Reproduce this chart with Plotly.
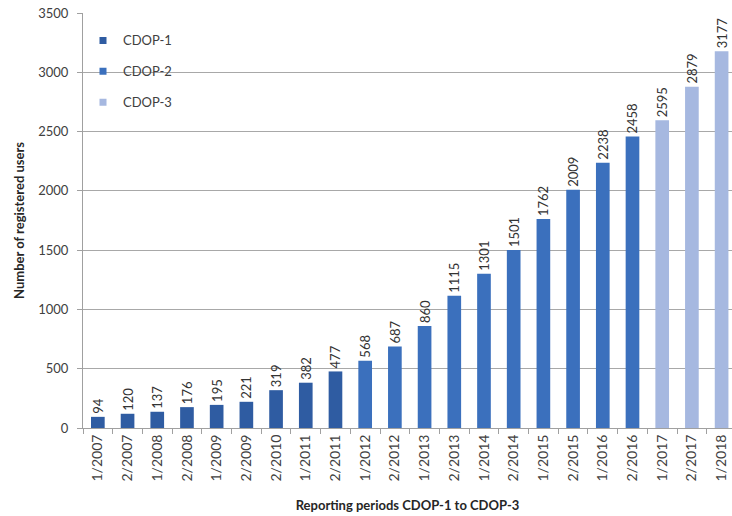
import plotly.graph_objects as go

# Reporting periods and registered users per funding phase
periods_cdop1 = ["1/2007", "2/2007", "1/2008", "2/2008", "1/2009", "2/2009",
                 "2/2010", "1/2011", "2/2011"]
users_cdop1 = [94, 120, 137, 176, 195, 221, 319, 382, 477]

periods_cdop2 = ["1/2012", "2/2012", "1/2013", "2/2013", "1/2014", "2/2014",
                 "1/2015", "2/2015", "1/2016", "2/2016"]
users_cdop2 = [568, 687, 860, 1115, 1301, 1501, 1762, 2009, 2238, 2458]

periods_cdop3 = ["1/2017", "2/2017", "1/2018"]
users_cdop3 = [2595, 2879, 3177]

series = [
    ("CDOP-1", periods_cdop1, users_cdop1, "#2f5ca2"),
    ("CDOP-2", periods_cdop2, users_cdop2, "#3b70bd"),
    ("CDOP-3", periods_cdop3, users_cdop3, "#a6b8e0"),
]

all_periods = periods_cdop1 + periods_cdop2 + periods_cdop3
font_family = "Lato, 'Open Sans', sans-serif"

fig = go.Figure()
for name, periods, users, color in series:
    fig.add_trace(go.Bar(
        x=periods, y=users, name=name, legendgroup=name, showlegend=False,
        marker=dict(color=color, line=dict(width=0)),
        width=0.46,
        text=[str(v) for v in users], textposition="outside", textangle=-90,
        textfont=dict(size=13, color="#333333", family=font_family),
        cliponaxis=False,
    ))
    # small square legend key
    fig.add_trace(go.Scatter(
        x=[None], y=[None], mode="markers", name=name, legendgroup=name,
        marker=dict(symbol="square", size=7, color=color),
    ))

fig.update_layout(
    width=732, height=516,
    margin=dict(l=83, r=0, t=13, b=88),
    paper_bgcolor="white", plot_bgcolor="white",
    font=dict(family=font_family, size=13, color="#404040"),
    barmode="overlay",
    uniformtext=dict(minsize=13, mode="show"),
    legend=dict(
        x=0.0, y=0.97, xanchor="left", yanchor="top",
        bgcolor="rgba(0,0,0,0)", tracegroupgap=11,
        font=dict(size=13, color="#404040"), itemwidth=30,
    ),
    xaxis=dict(
        type="category", categoryorder="array", categoryarray=all_periods,
        range=[-0.5, 21.35], tickangle=-90, tickson="boundaries",
        ticks="outside", ticklen=5, tickcolor="#a0a0a0",
        showline=True, linecolor="#a0a0a0", linewidth=1,
        tickfont=dict(size=14, color="#404040"),
        title=dict(text="<b>Reporting periods CDOP-1 to CDOP-3</b>",
                   font=dict(size=13, color="#262626"), standoff=20),
    ),
    yaxis=dict(
        range=[0, 3500], dtick=500, ticks="outside", ticklen=5,
        tickcolor="#a0a0a0", showline=True, linecolor="#a0a0a0",
        gridcolor="#a8a8a8", gridwidth=1, zeroline=False,
        tickfont=dict(size=13, color="#404040"),
        ticklabelstandoff=6,
        title=dict(text="<b>Number of registered users</b>",
                   font=dict(size=13, color="#262626"), standoff=10),
    ),
)

fig.write_html("out.html")
